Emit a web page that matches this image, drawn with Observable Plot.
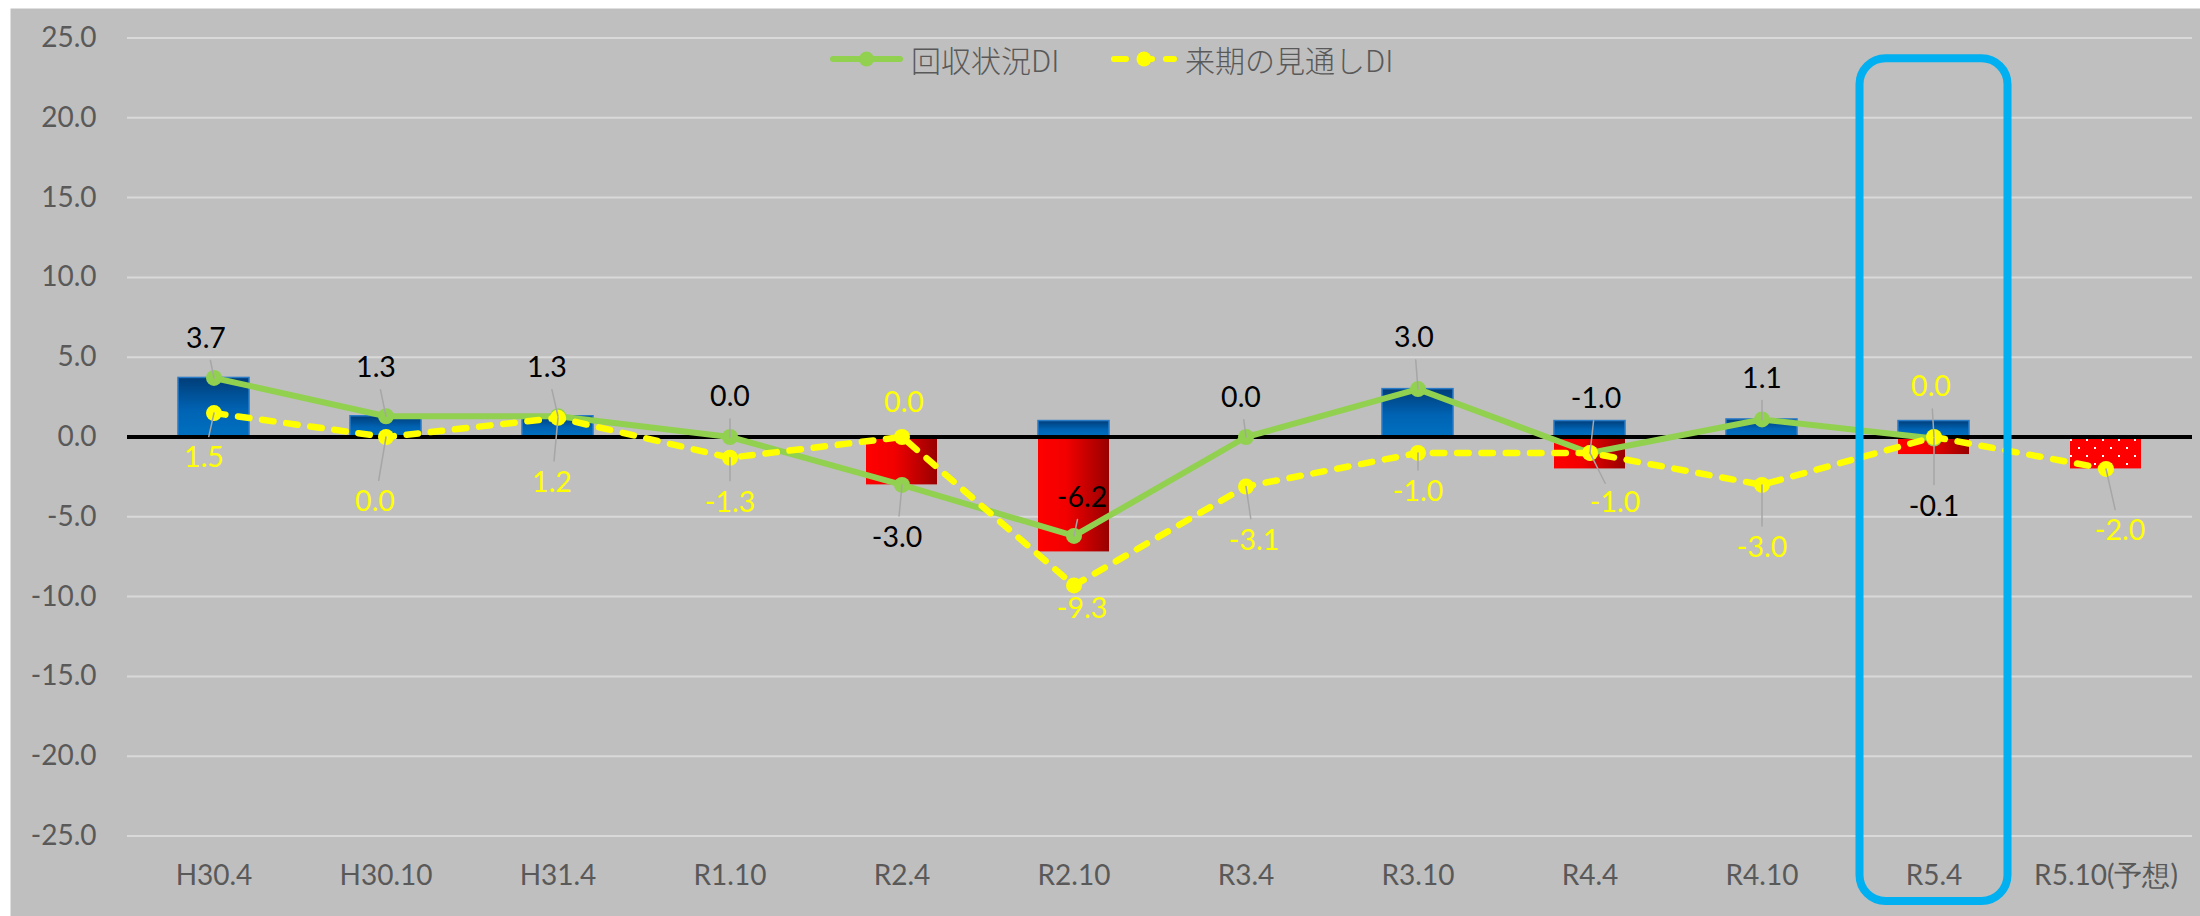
<!DOCTYPE html>
<html>
<head>
<meta charset="utf-8">
<script src="https://cdn.jsdelivr.net/npm/d3@7"></script>
<script src="https://cdn.jsdelivr.net/npm/@observablehq/plot@0.6"></script>
<style>
  html, body { margin: 0; padding: 0; background: #ffffff; }
  #wrap { position: relative; width: 2200px; height: 916px; overflow: hidden; }
  #wrap svg { display: block; }
  .legend-item { position: absolute; display: flex; align-items: center; height: 40px; top: 39px; }
  .legend-text { font-family: "Noto Sans CJK JP", "Noto Sans", sans-serif; font-weight: 300; font-size: 30px; color: #595959; white-space: nowrap; line-height: 40px; }
</style>
</head>
<body>
<div id="wrap"></div>
<script>
// Survey periods
const categories = ["H30.4", "H30.10", "H31.4", "R1.10", "R2.4", "R2.10", "R3.4", "R3.10", "R4.4", "R4.10", "R5.4", "R5.10(予想)"];
// Bar components: improving share (up) and worsening share (down)
const improvingShare = [3.7, 1.3, 1.3, 0, 0, 1.0, 0, 3.0, 1.0, 1.1, 1.0, 0];
const worseningShare = [0, 0, 0, 0, -3.0, -7.2, 0, 0, -2.0, 0, -1.1, -2.0];
// Line series
const collectionDI = [3.7, 1.3, 1.3, 0.0, -3.0, -6.2, 0.0, 3.0, -1.0, 1.1, -0.1, null];
const outlookDI = [1.5, 0.0, 1.2, -1.3, 0.0, -9.3, -3.1, -1.0, -1.0, -3.0, 0.0, -2.0];
const seriesNames = ["回収状況DI", "来期の見通しDI"];
const yTicks = [-25, -20, -15, -10, -5, 0, 5, 10, 15, 20, 25];
const forecastCategory = "R5.10(予想)";
const highlightCategory = "R5.4";
const highlightSpan = [23.7, -29.1];

// Label placement: pixel offsets [dx, dy] of each value label from its point
const collectionLabelOffsets = [[-8, -39], [-10, -48], [-11, -48], [0, -40], [-5, 53], [8, -38], [-5, -39], [-4, -51], [6, -54], [0, -41], [0, 68], null];
const outlookLabelOffsets = [[-10, 45], [-11, 65], [-6, 65], [0, 45], [2, -34], [8, 23], [8, 54], [0, 39], [25, 50], [0, 63], [-3, -50], [14, 62]];

const idx = categories.map((_, i) => i);
const upBars = idx.filter(i => improvingShare[i] !== 0).map(i => ({category: categories[i], value: improvingShare[i]}));
const downBars = idx.filter(i => worseningShare[i] !== 0 && categories[i] !== forecastCategory).map(i => ({category: categories[i], value: worseningShare[i]}));
const forecastBars = idx.filter(i => worseningShare[i] !== 0 && categories[i] === forecastCategory).map(i => ({category: categories[i], value: worseningShare[i]}));

const green = "#92d050";
const yellow = "#ffff00";
const numFont = "Lato, 'Open Sans', sans-serif";

// Value labels with leader lines for one series
function labelMarks(values, offsets, color) {
  const marks = [];
  idx.forEach(i => {
    if (values[i] == null || !offsets[i]) return;
    const [dx, dy] = offsets[i];
    const dist = Math.hypot(dx, dy);
    if (dist > 36) {
      marks.push(Plot.vector([i], {
        x: j => categories[j], y: j => values[j],
        length: dist - 22,
        rotate: Math.atan2(dx, -dy) * 180 / Math.PI,
        anchor: "start", r: 0,
        stroke: "#a6a6a6", strokeWidth: 1.5
      }));
    }
    marks.push(Plot.text([i], {
      x: j => categories[j], y: j => values[j],
      text: j => values[j].toFixed(1),
      dx, dy, fill: color, fontSize: 28.5, fontFamily: numFont
    }));
  });
  return marks;
}

const collectionPts = idx.filter(i => collectionDI[i] != null);

const svg = Plot.plot({
  width: 2200,
  height: 916,
  marginLeft: 127,
  marginRight: 8,
  marginTop: 37.5,
  marginBottom: 80.5,
  style: {fontFamily: numFont, fontSize: "28px", background: "transparent", overflow: "visible"},
  x: {type: "band", domain: categories, paddingInner: 0.588, paddingOuter: 0.294, align: 0.5},
  y: {domain: [-25, 25]},
  marks: [
    Plot.frame({fill: "#bfbfbf", stroke: null, insetLeft: -117, insetTop: -29.5, insetRight: -8, insetBottom: -80.5}),
    Plot.ruleY(yTicks.filter(d => d !== 0), {stroke: "#d9d9d9", strokeWidth: 2}),
    Plot.axisY({ticks: yTicks, tickSize: 0, tickPadding: 31, tickFormat: d => d.toFixed(1), fontSize: 28, color: "#595959", label: null}),
    Plot.axisX({tickSize: 0, tickPadding: 29, fontSize: 28, color: "#595959", label: null}),
    Plot.barY(upBars, {x: "category", y: "value", fill: "url(#barBlue)", stroke: "#2a7bc6", strokeWidth: 1.5}),
    Plot.barY(downBars, {x: "category", y: "value", fill: "url(#barRed)"}),
    Plot.barY(forecastBars, {x: "category", y: "value", fill: "url(#redDots)"}),
    Plot.ruleY([0], {stroke: "#000000", strokeWidth: 4}),
    Plot.line(collectionPts, {x: i => categories[i], y: i => collectionDI[i], stroke: green, strokeWidth: 6, strokeLinejoin: "round"}),
    Plot.dot(collectionPts, {x: i => categories[i], y: i => collectionDI[i], r: 8, fill: green, stroke: null}),
    Plot.line(idx, {x: i => categories[i], y: i => outlookDI[i], stroke: yellow, strokeWidth: 6.5, strokeDasharray: "11.5,12.8", strokeLinecap: "round"}),
    Plot.dot(idx, {x: i => categories[i], y: i => outlookDI[i], r: 8, fill: yellow, stroke: null}),
    ...labelMarks(collectionDI, collectionLabelOffsets, "#000000"),
    ...labelMarks(outlookDI, outlookLabelOffsets, yellow),
    Plot.barY([highlightCategory], {x: d => d, y1: () => highlightSpan[0], y2: () => highlightSpan[1], insetLeft: -38.5, insetRight: -38.5, fill: "none", stroke: "#00b0f0", strokeWidth: 8, rx: 26})
  ]
});

// Gradients and dot pattern used by the bar fills
const defs = d3.select(svg).insert("defs", ":first-child");
const gb = defs.append("linearGradient").attr("id", "barBlue").attr("x1", 0).attr("y1", 0).attr("x2", 0).attr("y2", 1);
gb.append("stop").attr("offset", "0%").attr("stop-color", "#003d78");
gb.append("stop").attr("offset", "55%").attr("stop-color", "#0063b3");
gb.append("stop").attr("offset", "100%").attr("stop-color", "#0070c0");
const gr = defs.append("linearGradient").attr("id", "barRed").attr("x1", 0).attr("y1", 0).attr("x2", 1).attr("y2", 0);
gr.append("stop").attr("offset", "0%").attr("stop-color", "#ff0000");
gr.append("stop").attr("offset", "40%").attr("stop-color", "#f20000");
gr.append("stop").attr("offset", "100%").attr("stop-color", "#980000");
const pat = defs.append("pattern").attr("id", "redDots").attr("patternUnits", "userSpaceOnUse").attr("width", 16).attr("height", 16).attr("x", 6).attr("y", 7);
pat.append("rect").attr("width", 16).attr("height", 16).attr("fill", "#ff0000");
pat.append("rect").attr("x", 0).attr("y", 0).attr("width", 2).attr("height", 2).attr("fill", "#ffffff");
pat.append("rect").attr("x", 8).attr("y", 8).attr("width", 2).attr("height", 2).attr("fill", "#ffffff");

const wrap = document.getElementById("wrap");
wrap.appendChild(svg);

// Legend drawn over the top of the plot area
function addLegendItem(left, swatchWidth, color, dashed, name) {
  const item = document.createElement("div");
  item.className = "legend-item";
  item.style.left = left + "px";
  const sw = d3.create("svg").attr("width", swatchWidth).attr("height", 20);
  sw.append("line").attr("x1", 3).attr("x2", swatchWidth - 3).attr("y1", 10).attr("y2", 10)
    .attr("stroke", color).attr("stroke-width", 6).attr("stroke-linecap", "round")
    .attr("stroke-dasharray", dashed ? "12,14" : null);
  sw.append("circle").attr("cx", swatchWidth / 2).attr("cy", 10).attr("r", 7.5).attr("fill", color);
  item.appendChild(sw.node());
  const t = document.createElement("span");
  t.className = "legend-text";
  t.style.marginLeft = "8px";
  t.textContent = name;
  item.appendChild(t);
  wrap.appendChild(item);
}
addLegendItem(830, 73, green, false, seriesNames[0]);
addLegendItem(1111, 66, yellow, true, seriesNames[1]);
</script>
</body>
</html>
